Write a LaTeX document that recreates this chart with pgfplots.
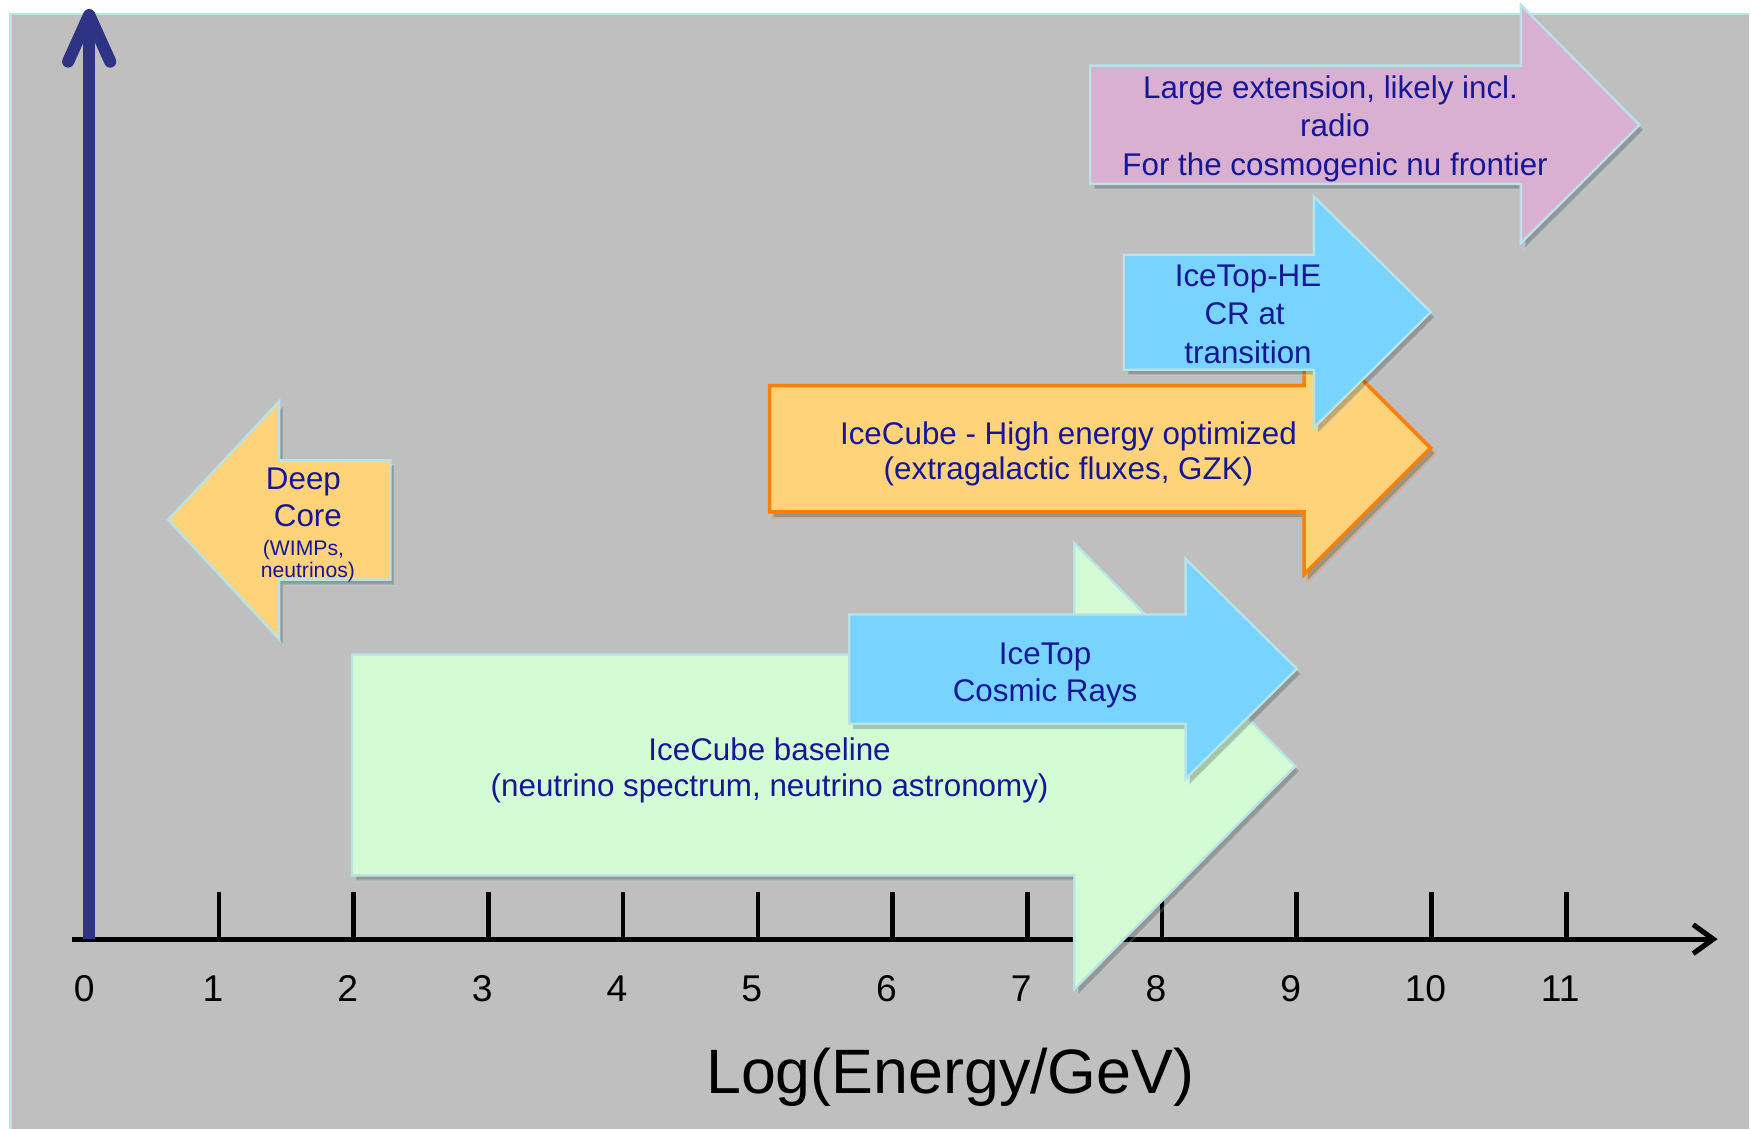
\documentclass[border=0pt]{standalone}
\usepackage{fontspec}
\setmainfont{Liberation Sans}
\usepackage{pgfplots}
\pgfplotsset{compat=1.18}
\usetikzlibrary{arrows.meta, shadows}
\definecolor{bggray}{RGB}{191,191,191}
\definecolor{edgecyan}{RGB}{184,228,232}
\definecolor{navytext}{RGB}{22,22,150}
\definecolor{axisnavy}{RGB}{46,51,131}
\definecolor{orangefill}{RGB}{255,211,122}
\definecolor{orangeedge}{RGB}{255,128,0}
\definecolor{greenfill}{RGB}{212,252,212}
\definecolor{bluefill}{RGB}{120,212,255}
\definecolor{pinkfill}{RGB}{218,176,210}
\tikzset{
    lbl/.style={text=navytext, font=\fontsize{8}{9.5}\selectfont, inner sep=0pt},
    shad/.style={drop shadow={opacity=0.22, shadow xshift=0.35mm, shadow yshift=-0.45mm, fill=black}},
    arr/.style={draw=edgecyan, line width=0.6pt, line join=miter, shad},
}

\begin{document}
\begin{tikzpicture}
\begin{axis}[
    width=15.68cm, height=10.12cm, scale only axis,
    xmin=-0.625, xmax=12.355, ymin=-1.407, ymax=6.970,
    hide axis, clip=false,
]
% keep the full frame as the page
\path (rel axis cs:0,0) rectangle (rel axis cs:1,1);
% slide background
\addplot[fill=bggray, draw=none]
    coordinates {(-0.546,-1.407) (-0.546,6.867) (12.355,6.867) (12.355,-1.407)} -- cycle;
\addplot[draw=edgecyan, line width=0.6pt]
    coordinates {(-0.546,-1.407) (-0.546,6.867) (12.355,6.867)};

% energy axis
\draw[black, line width=1.3pt, -{Straight Barb[length=1.8mm, width=2.6mm]}]
    (axis cs:-0.087,0) -- (axis cs:12.123,0);
\pgfplotsinvokeforeach{1,...,11}{
    \draw[black, line width=1.2pt] (axis cs:#1,0) -- (axis cs:#1,0.348);
}
\node[font=\fontsize{9.5}{11}\selectfont, inner sep=0pt] at (axis cs:0,-0.368) {0};
\pgfplotsinvokeforeach{1,...,11}{
    \node[font=\fontsize{9.5}{11}\selectfont, inner sep=0pt] at (axis cs:#1-0.045,-0.368) {#1};
}
\node[font=\fontsize{16}{19}\selectfont, inner sep=0pt] at (axis cs:6.428,-1.026) {Log(Energy/GeV)};

% vertical axis
\draw[axisnavy, line width=3.1pt] (axis cs:0.037,0) -- (axis cs:0.037,6.80);
\draw[axisnavy, line width=3.1pt, line cap=round, line join=round]
    (axis cs:-0.119,6.513) -- (axis cs:0.037,6.859) -- (axis cs:0.193,6.513);

% IceCube baseline
\addplot[arr, fill=greenfill] coordinates {(1.988,2.112) (7.348,2.112) (7.348,2.940) (8.989,1.284)
    (7.348,-0.373) (7.348,0.473) (1.988,0.473)} -- cycle;
% IceTop
\addplot[arr, fill=bluefill] coordinates {(5.678,2.409) (8.175,2.409) (8.175,2.822) (9.000,2.006)
    (8.175,1.190) (8.175,1.598) (5.678,1.598)} -- cycle;
% IceCube high energy
\addplot[fill=orangefill, draw=orangeedge, line width=0.9pt, line join=miter, shad] coordinates {(5.087,4.108) (9.054,4.108) (9.054,4.584) (9.994,3.645)
    (9.054,2.705) (9.054,3.171) (5.087,3.171)} -- cycle;
% IceTop-HE
\addplot[arr, fill=bluefill] coordinates {(7.716,5.079) (9.127,5.079) (9.127,5.512) (9.994,4.654)
    (9.127,3.796) (9.127,4.226) (7.716,4.226)} -- cycle;
% Large extension
\addplot[arr, fill=pinkfill] coordinates {(7.467,6.483) (10.663,6.483) (10.663,6.933) (11.544,6.043)
    (10.663,5.166) (10.663,5.605) (7.467,5.605)} -- cycle;
% Deep Core
\addplot[arr, fill=orangefill] coordinates {(0.623,3.113) (1.447,3.991) (1.447,3.553) (2.272,3.553)
    (2.272,2.668) (1.447,2.668) (1.447,2.228)} -- cycle;

% texts
\node[lbl] at (axis cs:1.627,3.395) {Deep};
\node[lbl] at (axis cs:1.660,3.146) {Core};
\node[lbl, font=\fontsize{5.4}{6.5}\selectfont] at (axis cs:1.627,2.890) {(WIMPs,};
\node[lbl, font=\fontsize{5.4}{6.5}\selectfont] at (axis cs:1.660,2.724) {neutrinos)};

\node[lbl] at (axis cs:5.087,1.408) {IceCube baseline};
\node[lbl] at (axis cs:5.087,1.117) {(neutrino spectrum, neutrino astronomy)};

\node[lbl] at (axis cs:7.132,2.094) {IceTop};
\node[lbl] at (axis cs:7.132,1.821) {Cosmic Rays};

\node[lbl] at (axis cs:7.305,3.733) {IceCube - High energy optimized};
\node[lbl] at (axis cs:7.305,3.468) {(extragalactic fluxes, GZK)};

\node[lbl] at (axis cs:8.638,4.900) {IceTop-HE};
\node[lbl] at (axis cs:8.613,4.644) {CR at};
\node[lbl] at (axis cs:8.638,4.354) {transition};

\node[lbl] at (axis cs:9.251,6.300) {Large extension, likely incl.};
\node[lbl] at (axis cs:9.284,6.043) {radio};
\node[lbl] at (axis cs:9.284,5.729) {For the cosmogenic nu frontier};
\end{axis}
\end{tikzpicture}
\end{document}
